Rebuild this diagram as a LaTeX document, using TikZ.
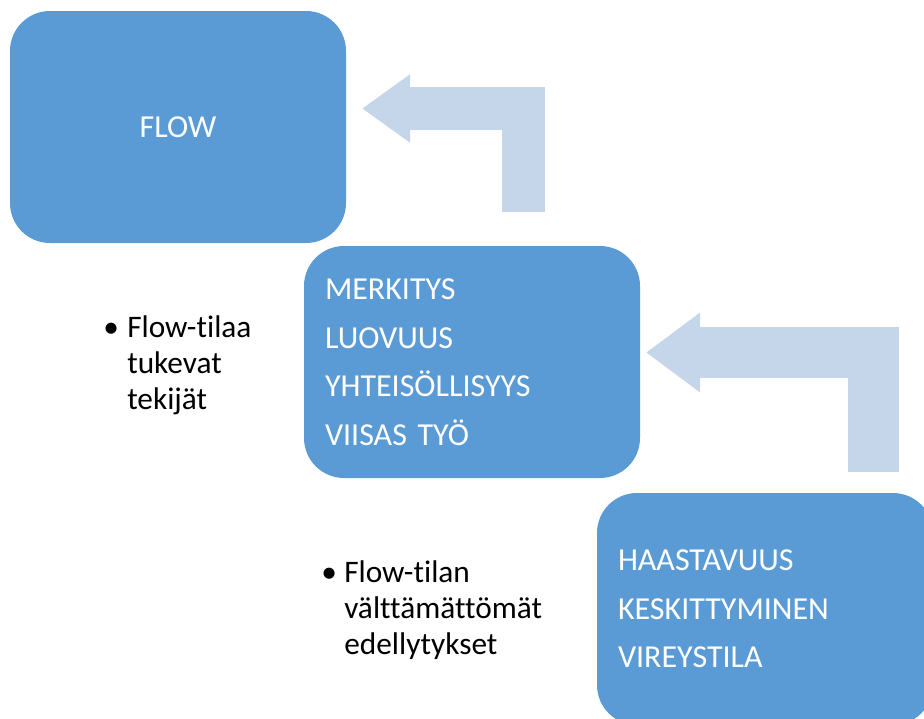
\documentclass[tikz,border=0pt]{standalone}
\usepackage{fontspec}
\setmainfont{Carlito}[Ligatures=NoCommon]
\usetikzlibrary{arrows.meta,positioning}
\definecolor{BoxBlue}{RGB}{91,155,213}
\definecolor{ArrowBlue}{RGB}{197,214,234}

\begin{document}
\begin{tikzpicture}[x=0.75pt, y=-0.75pt,
    box/.style={fill=BoxBlue, rounded corners=30pt, minimum width=252pt, minimum height=174pt,
      text=white, font=\fontsize{24}{36.4}\selectfont},
    listbox/.style={box, align=left, text width=220.5pt, inner xsep=15.75pt},
    bent/.style={ArrowBlue, line join=miter},
    note/.style={align=left, anchor=base west, inner sep=0pt, text width=220pt,
      font=\fontsize{23.5}{27.2}\selectfont}]
      \useasboundingbox (0,0) rectangle (924,718);
      \clip (0,0) rectangle (924,718);
      \node[box] (flow) at (178,127) {FLOW};
      \node[listbox] (tukevat) at (472,362) {MERKITYS\\LUOVUUS\\YHTEISÖLLISYYS\\VIISAS TYÖ};
      \node[listbox] (edellytys) at (765,609) {HAASTAVUUS\\KESKITTYMINEN\\VIREYSTILA};
      \coordinate (tail1) at (523.5,212);
      \coordinate (tip1) at (362,108.5);
      \coordinate (tail2) at (873,472);
      \coordinate (tip2) at (646,352.5);
      \draw[bent, line width=32.25pt, -{Triangle[length=36pt, width=48.75pt]}] (tail1) |- (tip1);
      \draw[bent, line width=38.25pt, -{Triangle[length=40.5pt, width=57pt]}] (tail2) |- (tip2);
      \node[note, text width=20pt] (dot1) at (103,337) {\textbullet};
      \node[note] (note1) at (127,337) {Flow-tilaa\\tukevat\\tekijät};
      \node[note, text width=20pt] (dot2) at (321,582) {\textbullet};
      \node[note] (note2) at (344,582) {Flow-tilan\\välttämättömät\\edellytykset};
    \end{tikzpicture}
\end{document}
